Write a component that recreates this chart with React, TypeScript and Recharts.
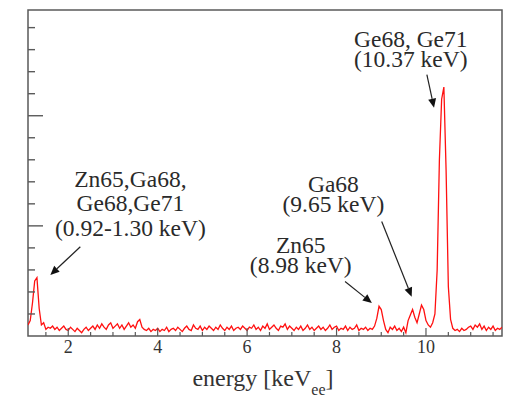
import { LineChart, Line, XAxis, YAxis, ReferenceArea, ReferenceLine, ReferenceDot } from 'recharts';

// spectrum bins (keV) and counts (arbitrary units, 1 = one major y tick)
const ENERGY = [
  1.1, 1.15, 1.2, 1.25, 1.3, 1.35, 1.4, 1.45, 1.5, 1.55,
  1.6, 1.65, 1.7, 1.75, 1.8, 1.85, 1.9, 1.95, 2.0, 2.05,
  2.1, 2.15, 2.2, 2.25, 2.3, 2.35, 2.4, 2.45, 2.5, 2.55,
  2.6, 2.65, 2.7, 2.75, 2.8, 2.85, 2.9, 2.95, 3.0, 3.05,
  3.1, 3.15, 3.2, 3.25, 3.3, 3.35, 3.4, 3.45, 3.5, 3.55,
  3.6, 3.65, 3.7, 3.75, 3.8, 3.85, 3.9, 3.95, 4.0, 4.05,
  4.1, 4.15, 4.2, 4.25, 4.3, 4.35, 4.4, 4.45, 4.5, 4.55,
  4.6, 4.65, 4.7, 4.75, 4.8, 4.85, 4.9, 4.95, 5.0, 5.05,
  5.1, 5.15, 5.2, 5.25, 5.3, 5.35, 5.4, 5.45, 5.5, 5.55,
  5.6, 5.65, 5.7, 5.75, 5.8, 5.85, 5.9, 5.95, 6.0, 6.05,
  6.1, 6.15, 6.2, 6.25, 6.3, 6.35, 6.4, 6.45, 6.5, 6.55,
  6.6, 6.65, 6.7, 6.75, 6.8, 6.85, 6.9, 6.95, 7.0, 7.05,
  7.1, 7.15, 7.2, 7.25, 7.3, 7.35, 7.4, 7.45, 7.5, 7.55,
  7.6, 7.65, 7.7, 7.75, 7.8, 7.85, 7.9, 7.95, 8.0, 8.05,
  8.1, 8.15, 8.2, 8.25, 8.3, 8.35, 8.4, 8.45, 8.5, 8.55,
  8.6, 8.65, 8.7, 8.75, 8.8, 8.85, 8.9, 8.95, 9.0, 9.05,
  9.1, 9.15, 9.2, 9.25, 9.3, 9.35, 9.4, 9.45, 9.5, 9.55,
  9.6, 9.65, 9.7, 9.75, 9.8, 9.85, 9.9, 9.95, 10.0, 10.05,
  10.1, 10.15, 10.2, 10.25, 10.3, 10.35, 10.4, 10.45, 10.5, 10.55,
  10.6, 10.65, 10.7, 10.75, 10.8, 10.85, 10.9, 10.95, 11.0, 11.05,
  11.1, 11.15, 11.2, 11.25, 11.3, 11.35, 11.4, 11.45, 11.5, 11.55,
  11.6, 11.65, 11.7,
];

const COUNTS = [
  0.10, 0.14, 0.30, 0.50, 0.53, 0.25, 0.10, 0.12, 0.06, 0.08,
  0.07, 0.09, 0.06, 0.08, 0.05, 0.07, 0.09, 0.06, 0.05, 0.08,
  0.06, 0.04, 0.07, 0.05, 0.03, 0.06, 0.08, 0.05, 0.07, 0.09,
  0.06, 0.10, 0.07, 0.11, 0.08, 0.06, 0.10, 0.12, 0.07, 0.09,
  0.11, 0.07, 0.10, 0.06, 0.09, 0.12, 0.08, 0.10, 0.07, 0.13,
  0.15, 0.08, 0.06, 0.05, 0.07, 0.04, 0.06, 0.05, 0.07, 0.04,
  0.06, 0.05, 0.08, 0.04, 0.06, 0.07, 0.05, 0.08, 0.06, 0.04,
  0.07, 0.09, 0.06, 0.05, 0.10, 0.07, 0.06, 0.09, 0.05, 0.08,
  0.06, 0.09, 0.07, 0.05, 0.08, 0.06, 0.10, 0.07, 0.05, 0.08,
  0.06, 0.09, 0.05, 0.07, 0.08, 0.06, 0.09, 0.07, 0.05, 0.08,
  0.07, 0.10, 0.06, 0.08, 0.05, 0.09, 0.07, 0.11, 0.06, 0.08,
  0.10, 0.07, 0.05, 0.09, 0.08, 0.11, 0.06, 0.09, 0.07, 0.05,
  0.08, 0.06, 0.09, 0.05, 0.07, 0.10, 0.06, 0.08, 0.05, 0.07,
  0.09, 0.06, 0.08, 0.05, 0.07, 0.10, 0.06, 0.08, 0.09, 0.05,
  0.07, 0.06, 0.09, 0.05, 0.08, 0.06, 0.07, 0.10, 0.05, 0.07,
  0.06, 0.08, 0.05, 0.07, 0.06, 0.09, 0.16, 0.27, 0.24, 0.14,
  0.06, 0.03, 0.08, 0.06, 0.09, 0.05, 0.07, 0.04, 0.08, 0.03,
  0.14, 0.19, 0.24, 0.17, 0.12, 0.20, 0.28, 0.24, 0.14, 0.10,
  0.08, 0.12, 0.20, 0.60, 1.60, 2.15, 2.26, 1.50, 0.45, 0.15,
  0.07, 0.05, 0.06, 0.04, 0.07, 0.05, 0.06, 0.08, 0.09, 0.06,
  0.10, 0.08, 0.11, 0.06, 0.09, 0.05, 0.08, 0.06, 0.09, 0.05,
  0.07, 0.06, 0.08,
];

const X_TICKS = [1.5, 2, 2.5, 3, 3.5, 4, 4.5, 5, 5.5, 6, 6.5, 7, 7.5, 8, 8.5, 9, 9.5, 10, 10.5, 11, 11.5];
const X_LABELED = [2, 4, 6, 8, 10];
const Y_TICKS = [0.2, 0.4, 0.6, 0.8, 1, 1.2, 1.4, 1.6, 1.8, 2, 2.2, 2.4, 2.6, 2.8];

const X_DOMAIN: [number, number] = [1.1, 11.7];
const Y_DOMAIN: [number, number] = [0, 2.96];

// annotation texts anchored at data coords (first line baseline), arrows from -> to
const ANNOTATIONS = [
  { lines: ['Zn65,Ga68,', 'Ge68,Ge71', '(0.92-1.30 keV)'], at: [3.39, 1.355], gap: 24.5, from: [2.27, 0.81], to: [1.6, 0.555] },
  { lines: ['Zn65', '(8.98 keV)'], at: [7.2, 0.755], gap: 20.5, from: [8.19, 0.494], to: [8.79, 0.3] },
  { lines: ['Ga68', '(9.65 keV)'], at: [7.93, 1.31], gap: 20.5, from: [9.01, 1.039], to: [9.68, 0.357] },
  { lines: ['Ge68, Ge71', '(10.37 keV)'], at: [9.66, 2.627], gap: 20.5, from: [10.02, 2.373], to: [10.18, 2.073] },
];

const data = ENERGY.map((e, i) => ({ energy: e, counts: COUNTS[i] }));

const SERIF = { fontFamily: "'Liberation Serif', 'Times New Roman', Times, serif" };
const FRAME = '#5a5a5a';

const XTick = (props: any) => {
  const { x, y, payload } = props;
  const v = payload.value;
  const major = X_LABELED.includes(v);
  return (
    <g>
      <line x1={x} x2={x} y1={y} y2={y - (major ? 8 : 4)} stroke={FRAME} strokeWidth={1.2} />
      {major && (
        <text x={x} y={y + 17} textAnchor="middle" style={SERIF} fontSize={18} fill="#333">
          {v}
        </text>
      )}
    </g>
  );
};

const YTick = (props: any) => {
  const { x, y, payload } = props;
  const major = Number.isInteger(payload.value);
  return <line x1={x} x2={x + (major ? 15 : 7)} y1={y} y2={y} stroke={FRAME} strokeWidth={1.4} />;
};

const XLabel = (props: any) => {
  const { viewBox } = props;
  const cx = viewBox.x + viewBox.width / 2 - 2;
  return (
    <text x={cx} y={viewBox.y + 50} textAnchor="middle" style={SERIF} fontSize={24} fill="#333">
      <tspan>energy [keV</tspan>
      <tspan dy={9} fontSize={16}>ee</tspan>
      <tspan dy={-9}>]</tspan>
    </text>
  );
};

const Arrow = (props: any) => {
  const { x1, y1, x2, y2 } = props;
  const a = Math.atan2(y2 - y1, x2 - x1);
  const len = 9;
  const half = 4;
  const bx = x2 - len * Math.cos(a);
  const by = y2 - len * Math.sin(a);
  const px = -Math.sin(a) * half;
  const py = Math.cos(a) * half;
  return (
    <g>
      <line x1={x1} y1={y1} x2={bx} y2={by} stroke="#222" strokeWidth={1.2} />
      <polygon points={`${x2},${y2} ${bx + px},${by + py} ${bx - px},${by - py}`} fill="#111" />
    </g>
  );
};

const makeLabel = (lines: string[], gap: number) => (props: any) => {
  const { cx, cy } = props;
  return (
    <text x={cx} y={cy} textAnchor="middle" style={SERIF} fontSize={23.5} fill="#2a2a2a">
      {lines.map((t, i) => (
        <tspan key={i} x={cx} dy={i === 0 ? 0 : gap}>
          {t}
        </tspan>
      ))}
    </text>
  );
};

export default function App() {
  return (
    <div style={{ position: 'absolute', left: 0, top: 0, width: 510, height: 397, background: '#fff' }}>
      <LineChart width={510} height={397} data={data} margin={{ top: 10, right: 8, bottom: 1, left: 0 }}>
        <XAxis
          dataKey="energy"
          type="number"
          domain={X_DOMAIN}
          ticks={X_TICKS}
          allowDataOverflow
          height={60}
          axisLine={false}
          tickLine={false}
          tickSize={0}
          tickMargin={0}
          interval={0}
          tick={<XTick />}
          label={<XLabel />}
        />
        <YAxis
          type="number"
          domain={Y_DOMAIN}
          ticks={Y_TICKS}
          allowDataOverflow
          width={28}
          axisLine={false}
          tickLine={false}
          tickSize={0}
          tickMargin={0}
          interval={0}
          tick={<YTick />}
        />
        <ReferenceArea
          x1={X_DOMAIN[0]}
          x2={X_DOMAIN[1]}
          y1={Y_DOMAIN[0]}
          y2={Y_DOMAIN[1]}
          fill="none"
          fillOpacity={0}
          stroke={FRAME}
          strokeWidth={1.5}
        />
        <Line
          dataKey="counts"
          type="linear"
          stroke="#ff1010"
          strokeWidth={1.3}
          dot={false}
          isAnimationActive={false}
        />
        {ANNOTATIONS.map((a, i) => (
          <ReferenceLine
            key={`arrow-${i}`}
            segment={[
              { x: a.from[0], y: a.from[1] },
              { x: a.to[0], y: a.to[1] },
            ]}
            shape={<Arrow />}
            ifOverflow="visible"
          />
        ))}
        {ANNOTATIONS.map((a, i) => (
          <ReferenceDot
            key={`label-${i}`}
            x={a.at[0]}
            y={a.at[1]}
            r={0}
            ifOverflow="visible"
            shape={makeLabel(a.lines, a.gap)}
          />
        ))}
      </LineChart>
    </div>
  );
}
